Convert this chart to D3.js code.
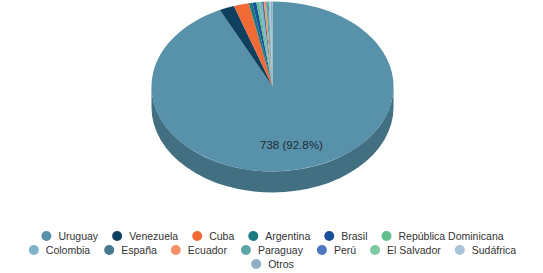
<!DOCTYPE html>
<html>
<head>
<meta charset="utf-8">
<script src="https://cdn.jsdelivr.net/npm/d3@7"></script>
<style>
  html, body { margin: 0; padding: 0; background: #ffffff; }
  svg { display: block; }
  text { font-family: "Liberation Sans", Arial, sans-serif; }
</style>
</head>
<body>
<svg id="chart" width="543" height="273"></svg>
<script>
const categories = ["Uruguay", "Venezuela", "Cuba", "Argentina", "Brasil", "República Dominicana",
  "Colombia", "España", "Ecuador", "Paraguay", "Perú", "El Salvador", "Sudáfrica", "Otros"];
const values = [738, 16, 16, 4, 4, 3, 3, 2, 2, 2, 1, 1, 1, 2];
const colors = ["#5891aa", "#0f4060", "#f26a35", "#1b7b82", "#1a4f9c", "#62c08e",
  "#80b3cb", "#477a91", "#f79167", "#5ea5a5", "#4d78c0", "#7dcaa0", "#a9c4d8", "#8fb0c4"];

const svg = d3.select("#chart");
const W = 543, H = 273;
const cx = 272.5, cy = 86.5, rx = 121, ry = 85, depth = 21;

const color = d3.scaleOrdinal().domain(categories).range(colors);
const data = categories.map((c, i) => ({ name: c, value: values[i] }));
const total = d3.sum(values);
const pie = d3.pie().sort(null).value(d => d.value).startAngle(0).endAngle(2 * Math.PI);
const arcs = pie(data);

const P = (a, dy = 0) => [cx + rx * Math.sin(a), cy - ry * Math.cos(a) + dy];

function sidePath(a0, a1) {
  const s = P(a0), e = P(a1), sb = P(a0, depth), eb = P(a1, depth);
  const large = (a1 - a0) > Math.PI ? 1 : 0;
  return `M${s[0]},${s[1]} A${rx},${ry} 0 ${large} 1 ${e[0]},${e[1]} L${eb[0]},${eb[1]} A${rx},${ry} 0 ${large} 0 ${sb[0]},${sb[1]} Z`;
}
function topPath(a0, a1) {
  const s = P(a0), e = P(a1);
  const large = (a1 - a0) > Math.PI ? 1 : 0;
  return `M${cx},${cy} L${s[0]},${s[1]} A${rx},${ry} 0 ${large} 1 ${e[0]},${e[1]} Z`;
}

const g = svg.append("g");
// side walls (front half only)
arcs.forEach(d => {
  const a0 = Math.max(d.startAngle, Math.PI / 2), a1 = Math.min(d.endAngle, 3 * Math.PI / 2);
  if (a1 > a0) {
    g.append("path").attr("d", sidePath(a0, a1))
      .attr("fill", d3.color(color(d.data.name)).darker(0.75));
  }
});
// top faces
arcs.forEach(d => {
  g.append("path").attr("d", topPath(d.startAngle, d.endAngle))
    .attr("fill", color(d.data.name));
});
// labels
arcs.forEach(d => {
  if (d.value / total < 0.1) return;
  const m = (d.startAngle + d.endAngle) / 2;
  const x = cx + rx * 0.7 * Math.sin(m), y = cy - ry * 0.7 * Math.cos(m);
  g.append("text").attr("x", x).attr("y", y).attr("dy", "0.35em")
    .attr("text-anchor", "middle").attr("font-size", "11.5px").attr("fill", "#1d2b36")
    .text(`${d.value} (${(d.value / total * 100).toFixed(1)}%)`);
});

// legend
const legend = svg.append("g");
const fs = 10.5, mr = 5, textOff = 12, gap = 14, maxW = 500, rowY0 = 236, rowH = 14;
const items = categories.map(c => {
  const t = legend.append("text").attr("font-size", fs + "px").attr("fill", "#333").text(c);
  const w = t.node().getComputedTextLength();
  return { name: c, t, w, width: mr + textOff + w };
});
const rows = [];
let cur = [], curW = 0;
items.forEach(it => {
  const add = (cur.length ? gap : 0) + it.width;
  if (cur.length && curW + add > maxW) { rows.push({ items: cur, w: curW }); cur = []; curW = 0; }
  curW += (cur.length ? gap : 0) + it.width;
  cur.push(it);
});
if (cur.length) rows.push({ items: cur, w: curW });
rows.forEach((r, ri) => {
  let x = cx - r.w / 2;
  const y = rowY0 + ri * rowH;
  r.items.forEach(it => {
    legend.append("circle").attr("cx", x + mr).attr("cy", y).attr("r", mr).attr("fill", color(it.name));
    it.t.attr("x", x + mr + textOff).attr("y", y).attr("dy", "0.35em");
    x += it.width + gap;
  });
});
</script>
</body>
</html>
